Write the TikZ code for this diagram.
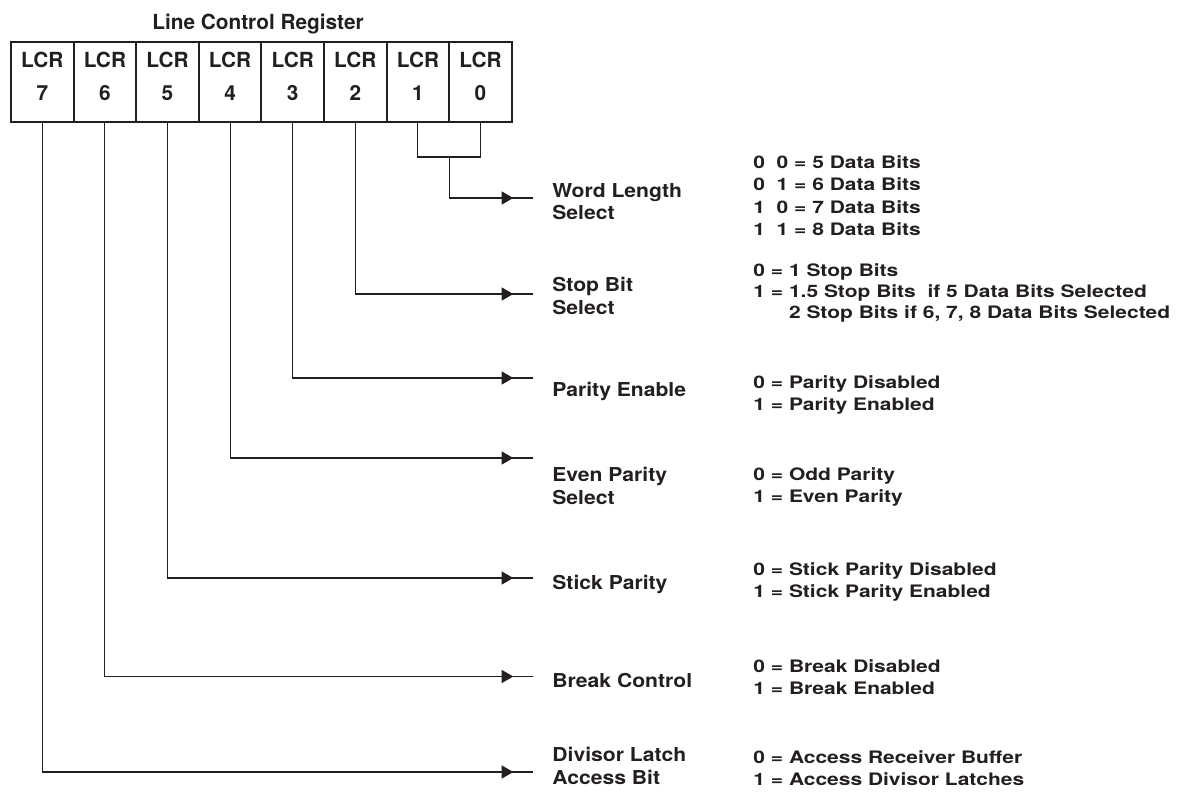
\documentclass[tikz,border=0pt]{standalone}
\usepackage{fontspec}
\setmainfont{TeX Gyre Heros}
\newfontfamily\lcrfieldfont[FakeStretch=1.1]{TeX Gyre Heros}
\newfontfamily\lcrvaluefont[FakeStretch=1.22]{TeX Gyre Heros}
\usetikzlibrary{arrows.meta,decorations.markings}
\definecolor{LcrInk}{HTML}{231F20}
\tikzset{
  lcrcell/.style={draw=LcrInk,line width=1pt,
    minimum width=31.3pt,minimum height=39.7pt,inner sep=0pt,
    align=center,text depth=5.5pt,text=LcrInk,
    font=\fontsize{10.4}{16.5}\selectfont\bfseries},
  lcrwire/.style={draw=LcrInk,line width=0.55pt},
  lcrfeed/.style={lcrwire,postaction={decorate},
    decoration={markings,
      mark=at position -10pt with {\arrow{Triangle[length=5.8pt,width=6.5pt]}}}},
  lcrfield/.style={anchor=north west,inner sep=0pt,align=left,text=LcrInk,
    font=\lcrfieldfont\fontsize{9.6}{11.25}\selectfont\bfseries},
  lcrvalue/.style={anchor=north west,inner sep=0pt,align=left,text=LcrInk,
    font=\lcrvaluefont\fontsize{8.6}{11.25}\selectfont\bfseries}
}

\begin{document}
\begin{tikzpicture}[x=0.5pt,y=-0.5pt]

        \useasboundingbox (0,0) rectangle (1182,792);

        % register
        \node[anchor=base,text=LcrInk,
          font=\fontsize{10.4}{12}\selectfont\bfseries]
          (lcrtitle) at (258,29.3) {Line Control Register};

        \node[lcrcell] (lcr7) at (42.3,82) {LCR\\7};
        \node[lcrcell] (lcr6) at (104.9,82) {LCR\\6};
        \node[lcrcell] (lcr5) at (167.5,82) {LCR\\5};
        \node[lcrcell] (lcr4) at (230.1,82) {LCR\\4};
        \node[lcrcell] (lcr3) at (292.7,82) {LCR\\3};
        \node[lcrcell] (lcr2) at (355.3,82) {LCR\\2};
        \node[lcrcell] (lcr1) at (417.9,82) {LCR\\1};
        \node[lcrcell] (lcr0) at (480.5,82) {LCR\\0};

        % field names
        \node[lcrfield] (wordsel) at (552,183) {Word Length\\Select};
        \node[lcrfield] (stopsel) at (552,277) {Stop Bit\\Select};
        \node[lcrfield] (parsel) at (552,382) {Parity Enable};
        \node[lcrfield] (evensel) at (552,467) {Even Parity\\Select};
        \node[lcrfield] (sticksel) at (552,575) {Stick Parity};
        \node[lcrfield] (brksel) at (552,673) {Break Control};
        \node[lcrfield] (dlabsel) at (552,747) {Divisor Latch\\Access Bit};

        % field values
        \node[lcrvalue] (wordval) at (753,155)
          {0\ \ 0 = 5 Data Bits\\0\ \ 1 = 6 Data Bits\\
           1\ \ 0 = 7 Data Bits\\1\ \ 1 = 8 Data Bits};
        \node[lcrvalue] (stopval) at (753,263)
          {0 = 1 Stop Bits\\[-0.7pt]
           1 = 1.5 Stop Bits\ \ if 5 Data Bits Selected\\[-0.7pt]
           \phantom{1 = }2 Stop Bits if 6, 7, 8 Data Bits Selected};
        \node[lcrvalue] (parval) at (753,375)
          {0 = Parity Disabled\\1 = Parity Enabled};
        \node[lcrvalue] (evenval) at (753,467)
          {0 = Odd Parity\\1 = Even Parity};
        \node[lcrvalue] (stickval) at (753,562)
          {0 = Stick Parity Disabled\\1 = Stick Parity Enabled};
        \node[lcrvalue] (brkval) at (753,659)
          {0 = Break Disabled\\1 = Break Enabled};
        \node[lcrvalue] (dlabval) at (753,750)
          {0 = Access Receiver Buffer\\1 = Access Divisor Latches};

        % wire ends in front of the field names
        \coordinate (lcrpair) at (449.2,157);
        \coordinate (wordin) at (533.3,198);
        \coordinate (stopin) at (533.3,294);
        \coordinate (parin) at (533.3,378);
        \coordinate (evenin) at (533.3,458);
        \coordinate (stickin) at (533.3,578);
        \coordinate (brkin) at (533.3,676.5);
        \coordinate (dlabin) at (533.3,772);

        \draw[lcrwire] (lcr1.south) |- (lcrpair) -| (lcr0.south);

        \draw[lcrfeed] (lcrpair) |- (wordin);
        \draw[lcrfeed] (lcr2.south) |- (stopin);
        \draw[lcrfeed] (lcr3.south) |- (parin);
        \draw[lcrfeed] (lcr4.south) |- (evenin);
        \draw[lcrfeed] (lcr5.south) |- (stickin);
        \draw[lcrfeed] (lcr6.south) |- (brkin);
        \draw[lcrfeed] (lcr7.south) |- (dlabin);

\end{tikzpicture}
\end{document}
